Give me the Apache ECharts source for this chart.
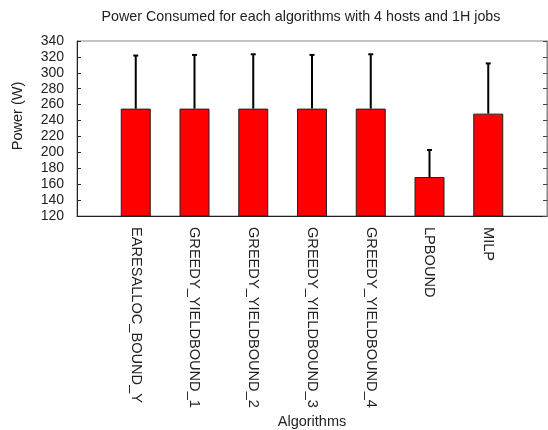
<!DOCTYPE html>
<html>
<head>
<meta charset="utf-8">
<script src="https://cdn.jsdelivr.net/npm/echarts@6/dist/echarts.min.js"></script>
<style>
  html, body { margin: 0; padding: 0; background: #fff; }
  #chart { width: 548px; height: 430px; }
</style>
</head>
<body>
<div id="chart"></div>
<script>
// Algorithms compared (blank slots pad the axis on both ends)
var algorithms = ['EARESALLOC_BOUND_Y', 'GREEDY_YIELDBOUND_1', 'GREEDY_YIELDBOUND_2',
  'GREEDY_YIELDBOUND_3', 'GREEDY_YIELDBOUND_4', 'LPBOUND', 'MILP'];
// Mean power consumed (W)
var meanPower = [255, 255, 255, 255, 255, 169, 248.7];
// Upper end of the error bar (W)
var upperPower = [321.7, 322.5, 323.3, 322.5, 323.3, 203, 311.8];
// Y axis ticks
var yTicks = [120, 140, 160, 180, 200, 220, 240, 260, 280, 300, 320, 340];

var FONT = 'Liberation Sans';
var categories = [''].concat(algorithms, ['']);
var barData = [null].concat(meanPower, [null]);
var errData = algorithms.map(function (a, i) { return [i + 1, meanPower[i], upperPower[i]]; });

var chart = echarts.init(document.getElementById('chart'), null, { renderer: 'canvas' });
chart.setOption({
  animation: false,
  backgroundColor: '#ffffff',
  title: {
    text: 'Power Consumed for each algorithms with 4 hosts and 1H jobs',
    left: 296, top: 5, textAlign: 'center',
    textStyle: { fontFamily: FONT, fontSize: 14.3, fontWeight: 'normal', color: '#222' }
  },
  graphic: [{
    type: 'text', x: 18, y: 116, rotation: Math.PI / 2,
    style: { text: 'Power (W)', fontFamily: FONT, fontSize: 14.5, fill: '#222',
      textAlign: 'center', textVerticalAlign: 'middle' }
  }],
  grid: { left: 77, top: 41, right: 1, bottom: 212, show: true, borderColor: '#888', borderWidth: 1 },
  xAxis: {
    type: 'category', data: categories, boundaryGap: false,
    name: 'Algorithms', nameLocation: 'middle', nameGap: 198,
    nameTextStyle: { fontFamily: FONT, fontSize: 14.5, color: '#222' },
    axisLine: { lineStyle: { color: '#222', width: 1 } },
    axisTick: { show: false },
    axisLabel: { rotate: -90, fontFamily: FONT, fontSize: 14.6, color: '#222', margin: 11, interval: 0 },
    splitLine: { show: false }
  },
  yAxis: [{
    type: 'value', min: yTicks[0], max: yTicks[yTicks.length - 1], interval: 20,
    axisLine: { show: true, lineStyle: { color: '#222' } },
    axisTick: { show: true, inside: true, length: 4, lineStyle: { color: '#222' } },
    axisLabel: { fontFamily: FONT, fontSize: 14, color: '#222', margin: 13 },
    splitLine: { show: false }
  }, {
    type: 'value', position: 'right', min: yTicks[0], max: yTicks[yTicks.length - 1], interval: 20,
    axisLine: { show: true, lineStyle: { color: '#888' } },
    axisTick: { show: true, inside: true, length: 4, lineStyle: { color: '#444' } },
    axisLabel: { show: false },
    splitLine: { show: false }
  }],
  series: [{
    type: 'bar', data: barData, barWidth: 30,
    itemStyle: { color: '#ff0000', borderColor: '#222', borderWidth: 1 }
  }, {
    type: 'custom', data: errData, z: 5,
    renderItem: function (params, api) {
      var x = api.value(0);
      var lo = api.coord([x, api.value(1)]);
      var hi = api.coord([x, api.value(2)]);
      var cap = 2.5;
      return {
        type: 'group',
        children: [{
          type: 'line', shape: { x1: lo[0], y1: lo[1], x2: hi[0], y2: hi[1] },
          style: { stroke: '#000', lineWidth: 2 }
        }, {
          type: 'line', shape: { x1: hi[0] - cap, y1: hi[1], x2: hi[0] + cap, y2: hi[1] },
          style: { stroke: '#000', lineWidth: 2 }
        }]
      };
    }
  }]
});
</script>
</body>
</html>
